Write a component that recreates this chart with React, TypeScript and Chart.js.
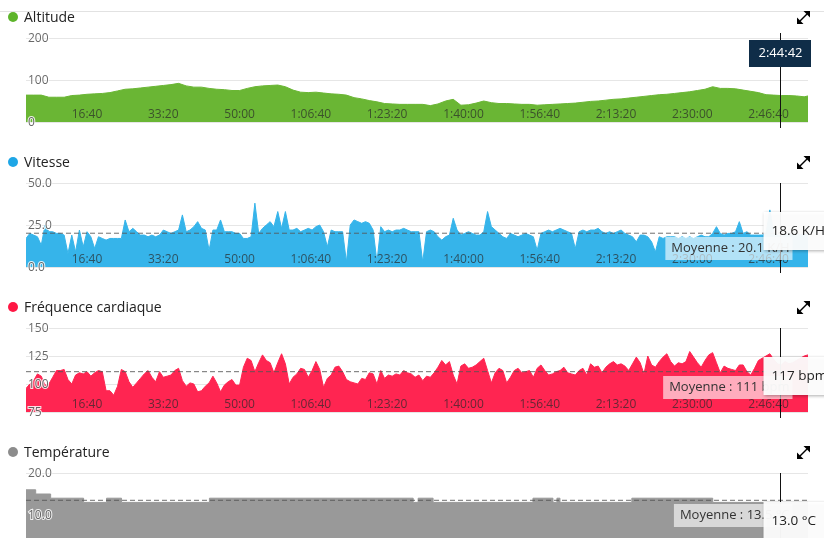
import React, { useEffect, useRef } from 'react';
import { Chart, registerables } from 'chart.js';

Chart.register(...registerables);

const FONT = '"Open Sans", "DejaVu Sans", sans-serif';

// ---- time axis (seconds) ----
const T_MAX = 10250;
const CURSOR_T = 9882; // 2:44:42
const timeTicks = [1000, 2000, 3000, 4000, 5000, 6000, 7000, 8000, 9000, 10000];
const ALT_STEP = 100; // seconds between altitude samples
const SAMPLE_STEP = 50; // seconds between speed / heart-rate samples

// ---- Altitude (m) ----
const altitude = [
  64, 64, 64, 59, 59, 59, 63, 64, 66, 67,
  68, 70, 74, 78, 79, 81, 83, 85, 87, 89,
  92, 86, 83, 83, 80, 78, 77, 75, 75, 80,
  84, 86, 87, 88, 84, 76, 71, 70, 71, 69,
  67, 66, 64, 58, 55, 51, 48, 44, 43, 42,
  42, 42, 42, 39, 43, 50, 54, 40, 41, 45,
  50, 46, 44, 44, 43, 42, 42, 40, 41, 42,
  43, 44, 45, 47, 49, 50, 52, 54, 55, 57,
  59, 61, 63, 65, 66, 68, 70, 72, 75, 78,
  84, 80, 80, 79, 76, 73, 70, 65, 64, 63,
  63, 62, 60, 64,
];
const altitudeTicks = [0, 100, 200];

// ---- Vitesse (km/h) ----
const speed = [
  17, 20, 19, 18, 13, 25, 21, 21, 20, 20,
  19, 8, 19, 9, 22, 12, 21, 18, 11, 18,
  17, 16, 17, 17, 17, 17, 28, 21, 23, 21,
  19, 19, 18, 19, 18, 19, 22, 21, 20, 21,
  22, 31, 21, 22, 24, 27, 23, 22, 10, 22,
  22, 28, 21, 21, 21, 20, 20, 17, 17, 18,
  38, 20, 23, 25, 27, 24, 33, 23, 33, 22,
  22, 23, 21, 22, 23, 22, 24, 25, 21, 12,
  22, 21, 21, 21, 3, 25, 28, 27, 26, 27,
  26, 22, 3, 24, 21, 22, 21, 22, 22, 23,
  22, 21, 21, 21, 3, 21, 22, 21, 18, 16,
  18, 19, 29, 22, 19, 20, 21, 20, 19, 19,
  21, 33, 24, 22, 20, 18, 17, 20, 19, 18,
  19, 20, 19, 18, 10, 20, 21, 22, 21, 22,
  23, 22, 21, 20, 11, 21, 22, 21, 22, 22,
  23, 21, 20, 21, 20, 21, 22, 20, 19, 18,
  15, 19, 19, 18, 15, 9, 18, 17, 18, 18,
  18, 17, 18, 17, 18, 17, 18, 19, 18, 18,
  20, 24, 20, 19, 20, 20, 21, 27, 20, 21,
  19, 19, 19, 19, 20, 34, 20, 19, 18, 19,
  20, 19, 20, 19, 20, 19,
];
const speedTicks = [0, 25, 50];
const speedAverage = 20.1;

// ---- Fréquence cardiaque (bpm) ----
const heartRate = [
  96, 100, 103, 109, 107, 99, 100, 106, 112, 112,
  113, 104, 100, 108, 110, 109, 111, 107, 110, 112,
  111, 94, 94, 90, 98, 113, 111, 102, 97, 101,
  105, 109, 112, 106, 102, 111, 106, 107, 108, 112,
  114, 103, 98, 101, 100, 93, 94, 98, 101, 107,
  101, 93, 99, 102, 104, 99, 99, 115, 123, 121,
  111, 119, 126, 121, 119, 110, 119, 127, 118, 100,
  106, 109, 114, 113, 106, 112, 120, 113, 97, 105,
  108, 115, 116, 111, 104, 102, 101, 100, 105, 104,
  110, 109, 100, 112, 105, 108, 107, 109, 108, 112,
  110, 109, 106, 108, 103, 107, 106, 110, 115, 121,
  117, 120, 108, 100, 116, 118, 114, 115, 117, 120,
  123, 112, 101, 110, 114, 112, 101, 106, 112, 114,
  110, 111, 112, 106, 114, 117, 112, 108, 109, 111,
  112, 115, 110, 109, 108, 112, 114, 108, 118, 115,
  116, 110, 115, 118, 120, 117, 118, 116, 112, 118,
  124, 119, 109, 125, 117, 115, 120, 124, 127, 120,
  116, 119, 118, 120, 129, 124, 119, 115, 121, 126,
  128, 119, 110, 116, 114, 113, 112, 117, 117, 111,
  108, 114, 121, 123, 125, 127, 122, 118, 117, 120,
  118, 119, 121, 123, 125, 126,
];
const heartTicks = [75, 100, 125, 150];
const heartAverage = 111;

// ---- Température (°C), stepped ----
const tempTimes = [0, 127, 323, 755, 1056, 1252, 2404, 5075, 5140, 5336, 6645, 6907, 6959, 6999, 7941, 9001, 10250];
const tempValues = [16, 15, 14, 13, 14, 13, 14, 13, 14, 13, 14, 13, 14, 13, 14, 13, 13];
const tempTicks = [0, 10, 20];
const tempAverage = 13.5;

function fmtTime(s: number): string {
  const h = Math.floor(s / 3600);
  const m = Math.floor((s % 3600) / 60);
  const sec = Math.round(s % 60);
  const ss = String(sec).padStart(2, '0');
  if (h > 0) return `${h}:${String(m).padStart(2, '0')}:${ss}`;
  return `${m}:${ss}`;
}

type PanelCfg = {
  title: string;
  dot: string;
  fill: string;
  points: { x: number; y: number }[];
  stepped?: boolean;
  min: number;
  max: number;
  ticks: number[];
  decimals: number;
  avg: number | null;
  avgText?: string;
  valueText?: string;
  timeLabel?: string;
};

const panels: PanelCfg[] = [
  {
    title: 'Altitude', dot: '#5db42a', fill: '#6ab634',
    points: altitude.map((v, i) => ({ x: i * ALT_STEP, y: v })),
    min: 0, max: 200, ticks: altitudeTicks, decimals: 0, avg: null,
    timeLabel: fmtTime(CURSOR_T),
  },
  {
    title: 'Vitesse', dot: '#1ea6e6', fill: '#36b4ea',
    points: speed.map((v, i) => ({ x: i * SAMPLE_STEP, y: v })),
    min: 0, max: 50, ticks: speedTicks, decimals: 1, avg: speedAverage,
    avgText: 'Moyenne : 20.1 K/H', valueText: '18.6 K/H',
  },
  {
    title: 'Fréquence cardiaque', dot: '#ff1744', fill: '#ff2551',
    points: heartRate.map((v, i) => ({ x: i * SAMPLE_STEP, y: v })),
    min: 75, max: 150, ticks: heartTicks, decimals: 0, avg: heartAverage,
    avgText: 'Moyenne : 111 bpm', valueText: '117 bpm',
  },
  {
    title: 'Température', dot: '#8c8c8c', fill: '#999999',
    points: tempValues.map((v, i) => ({ x: tempTimes[i], y: v })),
    stepped: true,
    min: 0, max: 20, ticks: tempTicks, decimals: 1, avg: tempAverage,
    avgText: 'Moyenne : 13.5 °C', valueText: '13.0 °C',
  },
];

const cursorPlugin = {
  id: 'cursor',
  afterDraw(chart: any, _args: any, opts: any) {
    const { ctx, chartArea, scales } = chart;
    const cx = Math.round(scales.x.getPixelForValue(opts.time)) + 0.5;
    ctx.save();
    ctx.strokeStyle = '#111';
    ctx.lineWidth = 1;
    ctx.beginPath();
    ctx.moveTo(cx, chartArea.top - (opts.timeLabel ? 5 : 0));
    ctx.lineTo(cx, chartArea.bottom + 6);
    ctx.stroke();

    ctx.font = `13px ${FONT}`;
    ctx.textBaseline = 'middle';

    if (opts.timeLabel) {
      ctx.fillStyle = '#0f2d48';
      ctx.fillRect(cx - 31.5, chartArea.top + 2, 62, 27);
      ctx.fillStyle = '#ffffff';
      ctx.textAlign = 'center';
      ctx.fillText(opts.timeLabel, cx, chartArea.top + 15.5);
    }
    if (opts.avgText && opts.avg != null) {
      const ay = scales.y.getPixelForValue(opts.avg);
      const w = ctx.measureText(opts.avgText).width;
      const right = cx + 12;
      const left = right - w - 9;
      const top = Math.round(ay) + 4;
      ctx.fillStyle = 'rgba(255,255,255,0.62)';
      ctx.fillRect(left, top, right - left, 23);
      ctx.fillStyle = '#333';
      ctx.textAlign = 'left';
      ctx.fillText(opts.avgText, left + 6, top + 11.5);
    }
    if (opts.valueText) {
      const top = chartArea.top + 29;
      ctx.save();
      ctx.shadowColor = 'rgba(0,0,0,0.35)';
      ctx.shadowBlur = 3;
      ctx.shadowOffsetY = 1;
      ctx.fillStyle = 'rgba(255,255,255,0.95)';
      ctx.fillRect(cx - 17, top, 100, 38);
      ctx.restore();
      ctx.fillStyle = '#222';
      ctx.textAlign = 'left';
      ctx.font = `13.5px ${FONT}`;
      ctx.fillText(opts.valueText, cx - 9, top + 19);
    }
    ctx.restore();
  },
};

function Panel({ cfg, index }: { cfg: PanelCfg; index: number }) {
  const ref = useRef<HTMLCanvasElement>(null);
  useEffect(() => {
    const datasets: any[] = [];
    if (cfg.avg != null) {
      datasets.push({
        data: [{ x: 0, y: cfg.avg }, { x: T_MAX, y: cfg.avg }],
        borderColor: 'rgba(85,85,85,0.85)',
        borderWidth: 1,
        borderDash: [5, 3],
        pointRadius: 0,
        fill: false,
      });
    }
    datasets.push({
      data: cfg.points,
      borderColor: cfg.fill,
      backgroundColor: cfg.fill,
      borderWidth: 1,
      pointRadius: 0,
      fill: 'start',
      tension: 0,
      stepped: cfg.stepped ? true : false,
    });
    const chart = new Chart(ref.current as HTMLCanvasElement, {
      type: 'line',
      data: { datasets },
      options: {
        responsive: false,
        animation: false,
        devicePixelRatio: 1,
        events: [],
        layout: { padding: { left: 22, right: 16, top: 38, bottom: 23 } },
        plugins: {
          legend: { display: false },
          tooltip: { enabled: false },
          cursor: {
            time: CURSOR_T,
            timeLabel: cfg.timeLabel,
            avg: cfg.avg,
            avgText: cfg.avgText,
            valueText: cfg.valueText,
          },
        } as any,
        scales: {
          x: {
            type: 'linear',
            min: 0,
            max: T_MAX,
            grid: { display: false, drawTicks: false },
            border: { display: false },
            afterBuildTicks: (s: any) => {
              s.ticks = timeTicks.map((v) => ({ value: v }));
            },
            ticks: {
              mirror: true,
              padding: 0,
              align: 'end',
              maxRotation: 0,
              autoSkip: false,
              z: 1,
              color: 'rgba(40,40,40,0.7)',
              font: { family: FONT, size: 12 },
              callback: (v: any) => fmtTime(Number(v)),
            },
          } as any,
          y: {
            min: cfg.min,
            max: cfg.max,
            grid: { color: '#e6e6e6', drawTicks: false },
            border: { display: false },
            afterBuildTicks: (s: any) => {
              s.ticks = cfg.ticks.map((v) => ({ value: v }));
            },
            ticks: {
              mirror: true,
              padding: 2,
              z: 1,
              labelOffset: 1,
              color: 'rgba(40,40,40,0.7)',
              textStrokeColor: 'rgba(255,255,255,0.85)',
              textStrokeWidth: 2,
              font: { family: FONT, size: 12 },
              callback: (v: any) => Number(v).toFixed(cfg.decimals),
            },
          } as any,
        },
      },
      plugins: [cursorPlugin],
    });
    return () => chart.destroy();
  }, []);

  return (
    <div style={{ position: 'absolute', left: 0, top: index * 145, width: 824, height: 145 }}>
      <canvas
        ref={ref}
        width={824}
        height={145}
        style={{ position: 'absolute', left: 0, top: 0, width: 824, height: 145 }}
      />
      <div
        style={{
          position: 'absolute', left: 8, top: 12, width: 10, height: 10,
          borderRadius: '50%', background: cfg.dot,
        }}
      />
      <div
        style={{
          position: 'absolute', left: 24, top: 7, height: 20, lineHeight: '20px',
          fontFamily: FONT, fontSize: 14, color: '#222', whiteSpace: 'nowrap',
        }}
      >
        {cfg.title}
      </div>
      <svg width="13" height="13" viewBox="0 0 13 13" style={{ position: 'absolute', left: 797, top: 11 }}>
        <line x1="3" y1="10" x2="10" y2="3" stroke="#000" strokeWidth="1.4" />
        <polygon points="13,0 13,6.5 6.5,0" fill="#000" />
        <polygon points="0,13 0,6.5 6.5,13" fill="#000" />
      </svg>
    </div>
  );
}

export default function App() {
  return (
    <div
      style={{
        position: 'absolute', left: 0, top: 0, width: 824, height: 538,
        overflow: 'hidden', background: '#fff',
      }}
    >
      <div style={{ position: 'absolute', left: 0, top: 11, width: 824, height: 1, background: '#e2e2e2' }} />
      {panels.map((p, i) => (
        <Panel key={p.title} cfg={p} index={i} />
      ))}
    </div>
  );
}
